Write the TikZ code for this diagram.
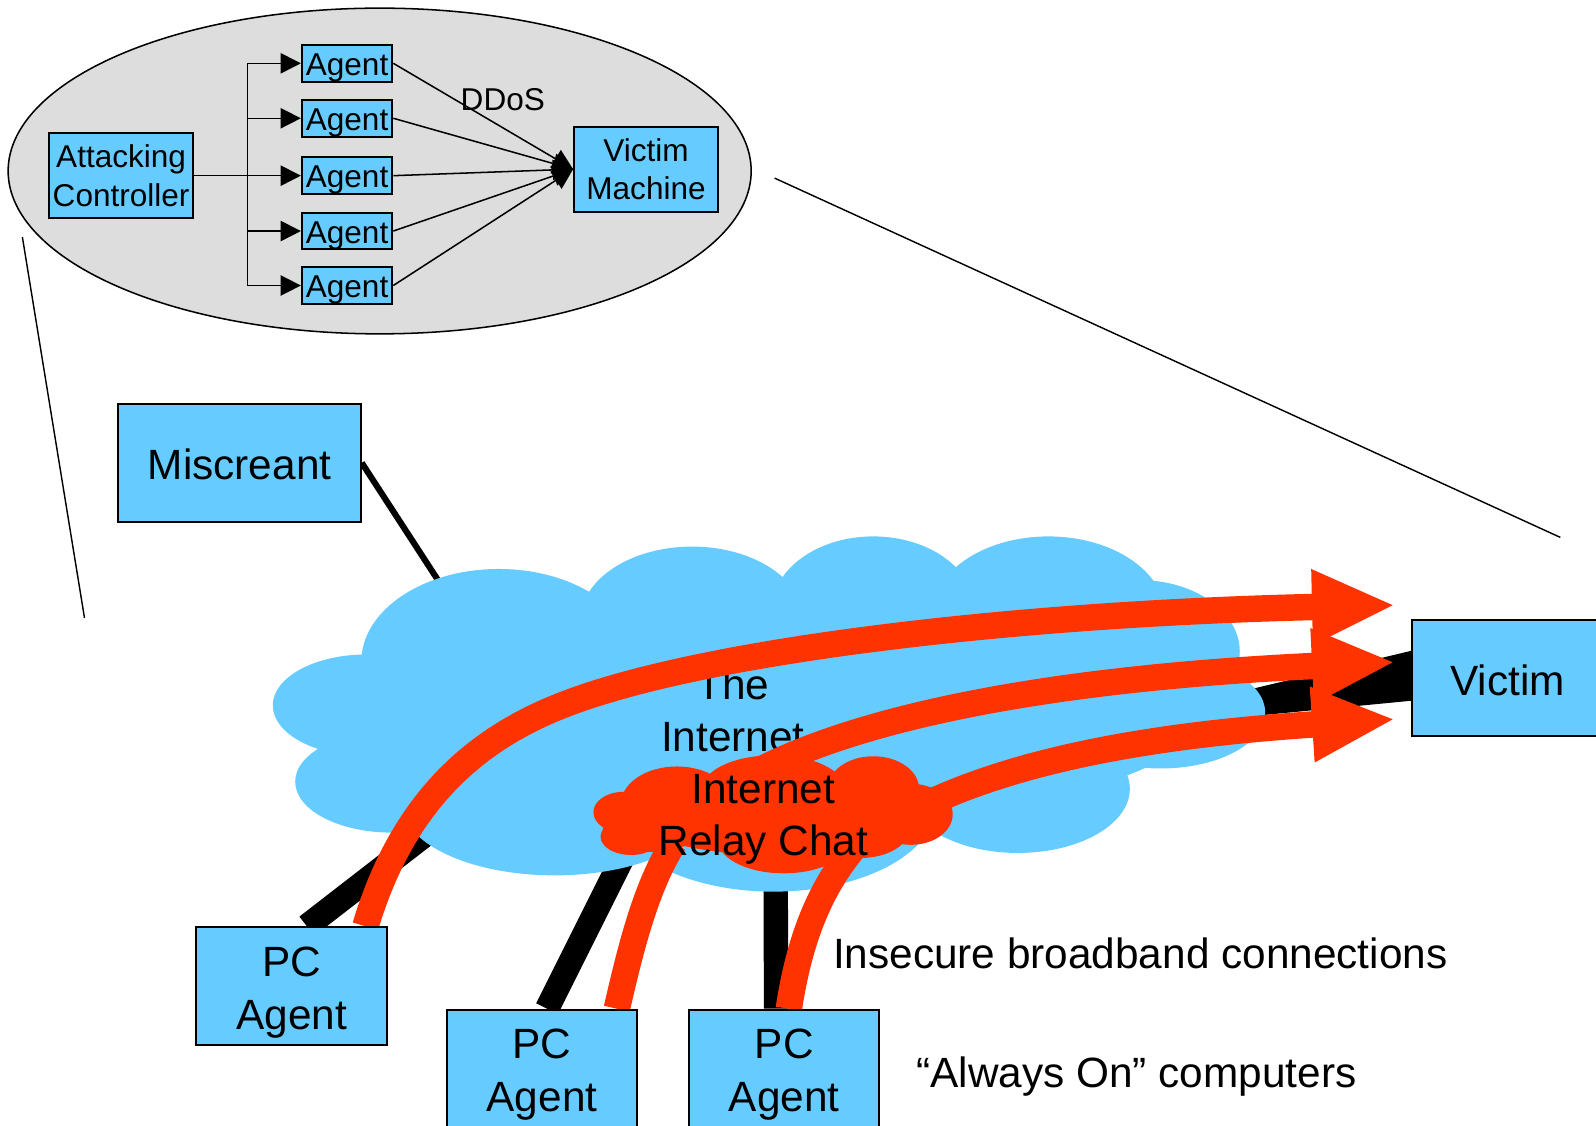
\documentclass[tikz,border=0pt]{standalone}
\usepackage{fontspec}
\setmainfont{Liberation Sans}
\usetikzlibrary{arrows.meta,calc}
\definecolor{netblue}{HTML}{66CCFF}
\definecolor{ircred}{HTML}{FF3300}
\definecolor{panelgray}{HTML}{DDDDDD}
\newcommand\fsmall{\fontsize{15.5}{19}\selectfont}
\newcommand\fbig{\fontsize{20.8}{25.8}\selectfont}
\pgfdeclarelayer{links}
\pgfdeclarelayer{cloud}
\pgfdeclarelayer{flows}
\pgfdeclarelayer{irc}
\pgfsetlayers{links,cloud,flows,irc,main}
\begin{document}
\begin{tikzpicture}[x=0.5pt,y=-0.5pt,
  box/.style={draw=black,fill=netblue,inner sep=0pt,align=center},
  smallbox/.style={box,line width=0.9pt,font=\fsmall},
  bigbox/.style={box,line width=1pt,font=\fbig},
  lbl/.style={inner sep=0pt,align=center},
  boxtext/.style n args={3}{label={[lbl,font=#1,yshift=#2]center:#3}},
  wire/.style={line width=0.75pt},
  wirearrow/.style={wire,-{Triangle[length=10pt,width=10pt]}},
  netlink/.style={line width=12pt},
  redband/.style={draw=ircred,line width=13pt},
  redarrow/.style={redband,-{Triangle[length=41pt,width=34pt]}},
]
\useasboundingbox (0,0) rectangle (1568,1106);

% ---------- detail panel: controller, agents, victim machine ----------
\draw[fill=panelgray,line width=0.75pt] (373,168) ellipse [x radius=182.5pt,y radius=80pt];
\node[smallbox,minimum width=70.75pt,minimum height=42pt] (ctrl) at (119,172.4) {Attacking\\Controller};
\foreach \i/\y in {1/62.2,2/116.2,3/172.6,4/227,5/280.5}
  \node[smallbox,minimum width=44.5pt,minimum height=18pt,
        boxtext={\fsmall}{-2.3pt}{Agent}] (a\i) at (341,\y) {};
\node[smallbox,minimum width=70.75pt,minimum height=41.8pt] (vm) at (634.7,166.2) {Victim\\Machine};
\node[lbl,font=\fsmall] (ddos) at (494,98) {DDoS};
\coordinate (fork) at (243,172.4);
\draw[wire] (ctrl.east) -- (fork);
\foreach \i in {1,...,5} \draw[wirearrow] (fork) |- (a\i.west);
\foreach \i in {1,...,5} \draw[wirearrow] (a\i.east) -- (vm.west);

% magnification lines
\coordinate (zl1) at (22,233);
\coordinate (zl2) at (83,607);
\coordinate (zr1) at (761,175);
\coordinate (zr2) at (1533,528);
\draw[line width=0.7pt] (zl1) -- (zl2);
\draw[line width=0.7pt] (zr1) -- (zr2);

% ---------- hosts ----------
\node[bigbox,minimum width=119pt,minimum height=57.7pt,
      boxtext={\fbig}{-0.7pt}{Miscreant}] (misc) at (235.4,454.7) {};
\node[bigbox,minimum width=94pt,minimum height=57pt,
      boxtext={\fbig}{-1pt}{Victim}] (victim) at (1481,666.5) {};
\node[bigbox,minimum width=93.5pt,minimum height=58pt,boxtext={\fbig}{-3pt}{PC\\Agent}] (pc1) at (286.5,969) {};
\node[bigbox,minimum width=93.5pt,minimum height=58pt,boxtext={\fbig}{-3pt}{PC\\Agent}] (pc2) at (532.5,1050) {};
\node[bigbox,minimum width=93.5pt,minimum height=58pt,boxtext={\fbig}{-3pt}{PC\\Agent}] (pc3) at (770.5,1050) {};

\node[lbl,font=\fbig,anchor=west] (insecure) at (818,937) {Insecure broadband connections};
\node[lbl,font=\fbig,anchor=west] (always) at (900,1058) {“Always On” computers};

% ---------- access links into the Internet ----------
\coordinate (inM) at (442,588);
\coordinate (in1) at (450,795);
\coordinate (in2) at (622,822);
\coordinate (in3) at (762,845);
\coordinate (inVa) at (1200,684);
\coordinate (inVb) at (1200,706.5);
\begin{pgfonlayer}{links}
\draw[line width=3pt] (misc.east) -- (inM);
\draw[netlink] ($(pc1.north)+(15,0)$) -- (in1);
\draw[netlink] ($(pc2.north)+(5,0)$) -- (in2);
\draw[netlink] ($(pc3.north)+(-8,0)$) -- (in3);
% the victim's uplink widens towards the host
\fill ($(victim.west)+(0,-27)$) -- ($(victim.west)+(0,22)$) -- (inVb) -- (inVa) -- cycle;
\end{pgfonlayer}

% ---------- the Internet cloud ----------
\begin{pgfonlayer}{cloud}
\fill[netblue]
  (490,650) ellipse [x radius=67.5pt,y radius=45.5pt]
  (680,610) ellipse [x radius=55pt,y radius=36.5pt]
  (858,600) ellipse [x radius=50pt,y radius=36.5pt]
  (1030,605) ellipse [x radius=57.5pt,y radius=39pt]
  (1120,640) ellipse [x radius=49pt,y radius=35pt]
  (1140,700) ellipse [x radius=51.5pt,y radius=27.5pt]
  (1000,775) ellipse [x radius=55pt,y radius=31.5pt]
  (760,790) ellipse [x radius=80pt,y radius=43pt]
  (545,790) ellipse [x radius=75pt,y radius=35pt]
  (360,693) ellipse [x radius=46pt,y radius=25pt]
  (385,768) ellipse [x radius=47.5pt,y radius=25pt]
  (760,700) ellipse [x radius=210pt,y radius=55pt];
\node[lbl,font=\fbig] (net) at (720,698) {The\\Internet};
\end{pgfonlayer}

% ---------- attack traffic ----------
\coordinate (r1s) at ($(pc1.north)+(72.5,0)$);
\coordinate (r1m) at (560,690);
\coordinate (t1) at ($(victim.west)+(-15,-72)$);
\coordinate (t2) at ($(victim.west)+(-15,-16)$);
\coordinate (t3) at ($(victim.west)+(-15,40)$);
\coordinate (i2s) at (740,760);
\coordinate (i3s) at (900,795);
\coordinate (p2s) at ($(pc2.north)+(73.5,0)$);
\coordinate (p3s) at ($(pc3.north)+(4.5,0)$);
\begin{pgfonlayer}{flows}
\draw[redarrow] (r1s) .. controls (395,790) and (465,725) .. (r1m)
                      .. controls (700,638) and (1000,603) .. (t1);
\draw[redarrow] (i2s) .. controls (830,712) and (1000,668) .. (t2);
\draw[redarrow] (i3s) .. controls (980,755) and (1100,724) .. (t3);
\draw[redband] (p2s) .. controls (620,930) and (635,870) .. (662,828);
\draw[redband] (p3s) .. controls (785,925) and (805,870) .. (845,826);
\end{pgfonlayer}

% ---------- IRC cloud ----------
\begin{pgfonlayer}{irc}
\fill[ircred]
  (665,790) ellipse [x radius=27.5pt,y radius=18.5pt]
  (760,775) ellipse [x radius=35pt,y radius=16.5pt]
  (858,775) ellipse [x radius=22.5pt,y radius=16pt]
  (895,800) ellipse [x radius=20.5pt,y radius=15pt]
  (845,815) ellipse [x radius=24pt,y radius=14pt]
  (770,825) ellipse [x radius=32.5pt,y radius=16.5pt]
  (640,815) ellipse [x radius=24pt,y radius=11pt]
  (612,798) ellipse [x radius=14.5pt,y radius=10pt]
  (620,822) ellipse [x radius=15pt,y radius=9pt]
  (760,800) ellipse [x radius=70pt,y radius=20pt];
\node[lbl,font=\fbig] (irclbl) at (750,805) {Internet\\Relay Chat};
\end{pgfonlayer}
\end{tikzpicture}
\end{document}
